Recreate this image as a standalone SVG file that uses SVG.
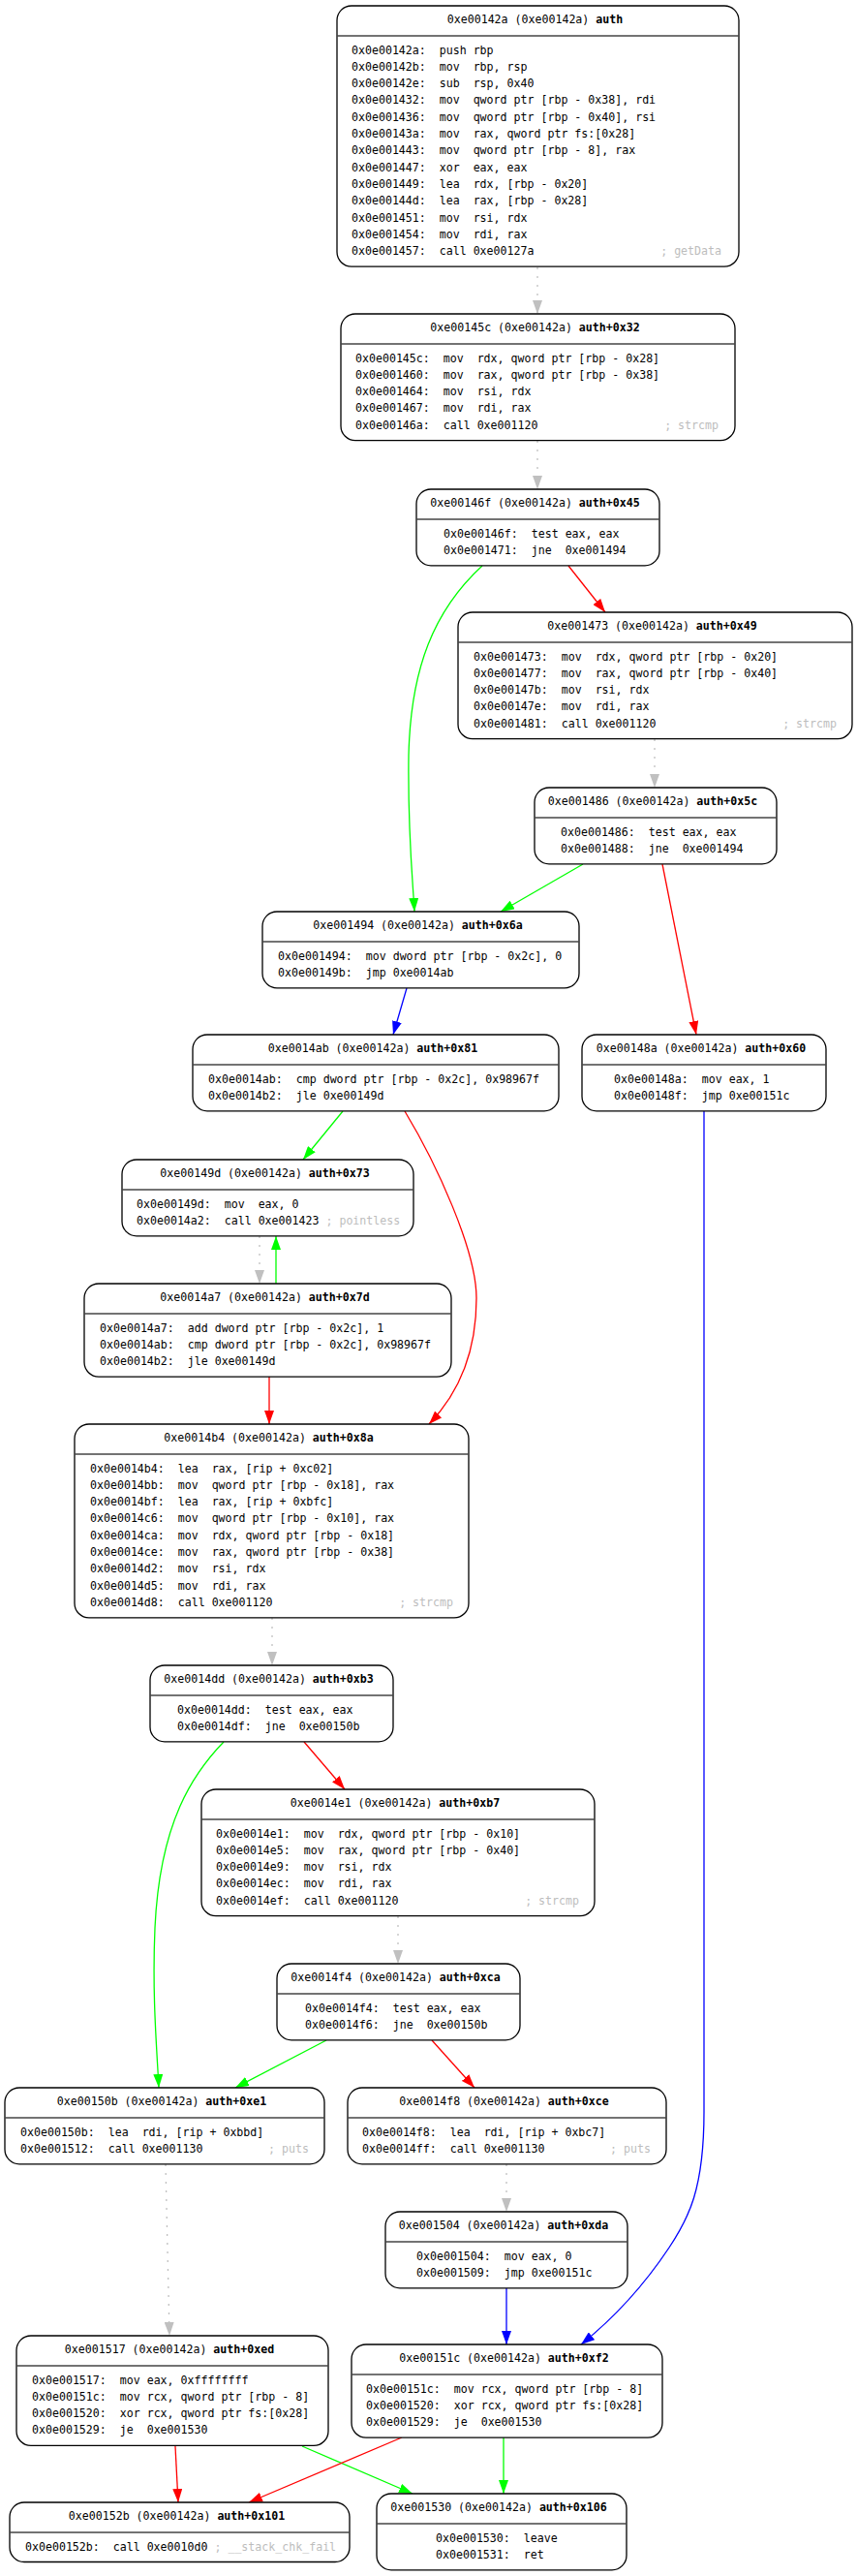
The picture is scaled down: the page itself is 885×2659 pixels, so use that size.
<svg xmlns="http://www.w3.org/2000/svg" width="885" height="2659" viewBox="0 0 885 2659" xml:space="preserve">
<style>
.bx{fill:#fff;stroke:#000;stroke-width:1.3}
.dv{stroke:#444;stroke-width:1.6}
.t{font-family:"DejaVu Sans Mono",monospace;font-size:11.6px;fill:#000;white-space:pre}
.h{text-anchor:middle}
.b{font-weight:bold}
.c{fill:#bdbdbd}
.r{text-anchor:end;fill:#bdbdbd}
.e{fill:none;stroke-width:1.3}
.eg{stroke:#00ff00}
.er{stroke:#ff0000}
.eb{stroke:#0000ff}
.ey{stroke:#c0c0c0;stroke-dasharray:2,7}
</style>
<defs>
<marker id="mg" markerUnits="userSpaceOnUse" markerWidth="14" markerHeight="10" refX="14" refY="5" orient="auto"><path d="M0,0L14,5L0,10z" fill="#00ff00"/></marker>
<marker id="mr" markerUnits="userSpaceOnUse" markerWidth="14" markerHeight="10" refX="14" refY="5" orient="auto"><path d="M0,0L14,5L0,10z" fill="#ff0000"/></marker>
<marker id="mb" markerUnits="userSpaceOnUse" markerWidth="14" markerHeight="10" refX="14" refY="5" orient="auto"><path d="M0,0L14,5L0,10z" fill="#0000ff"/></marker>
<marker id="my" markerUnits="userSpaceOnUse" markerWidth="14" markerHeight="10" refX="14" refY="5" orient="auto"><path d="M0,0L14,5L0,10z" fill="#c0c0c0"/></marker>
</defs>
<rect width="885" height="2659" fill="#fff"/>
<g id="edges">
<path class="e ey" d="M555,276L555,324" marker-end="url(#my)"/>
<path class="e ey" d="M555,455L555,505" marker-end="url(#my)"/>
<path class="e er" d="M587,584L625,632" marker-end="url(#mr)"/>
<path class="e eg" d="M498,584C448,630 424,690 422,780C421,860 426,905 428,941" marker-end="url(#mg)"/>
<path class="e ey" d="M676,763L676,813" marker-end="url(#my)"/>
<path class="e eg" d="M602,892L517,941" marker-end="url(#mg)"/>
<path class="e er" d="M684,892L719,1068" marker-end="url(#mr)"/>
<path class="e eb" d="M420,1020L406,1068" marker-end="url(#mb)"/>
<path class="e eg" d="M354,1147L313,1197" marker-end="url(#mg)"/>
<path class="e er" d="M418,1147C450,1200 492,1290 492,1340C492,1400 472,1440 443,1470" marker-end="url(#mr)"/>
<path class="e eb" d="M727,1147L727,2180C727,2260 711,2290 691,2320C671,2350 640,2388 600,2420" marker-end="url(#mb)"/>
<path class="e ey" d="M268,1276L268,1325" marker-end="url(#my)"/>
<path class="e eg" d="M285,1325L285,1276" marker-end="url(#mg)"/>
<path class="e er" d="M278,1421L278,1470" marker-end="url(#mr)"/>
<path class="e ey" d="M281,1670L281,1719" marker-end="url(#my)"/>
<path class="e eg" d="M231,1798C200,1830 165,1880 160,1990C157,2060 162,2115 164,2155" marker-end="url(#mg)"/>
<path class="e er" d="M314,1798L356,1847" marker-end="url(#mr)"/>
<path class="e ey" d="M411,1978L411,2027" marker-end="url(#my)"/>
<path class="e eg" d="M337,2106L243,2155" marker-end="url(#mg)"/>
<path class="e er" d="M446,2106L490,2155" marker-end="url(#mr)"/>
<path class="e ey" d="M171,2234L175,2411" marker-end="url(#my)"/>
<path class="e ey" d="M523,2234L523,2283" marker-end="url(#my)"/>
<path class="e eb" d="M523,2362L523,2420" marker-end="url(#mb)"/>
<path class="e er" d="M181,2525L184,2583" marker-end="url(#mr)"/>
<path class="e eg" d="M312,2525L426,2574" marker-end="url(#mg)"/>
<path class="e er" d="M415,2516L257,2583" marker-end="url(#mr)"/>
<path class="e eg" d="M520,2516L520,2574" marker-end="url(#mg)"/>
</g>
<g id="n142a">
<rect class="bx" x="348" y="6" width="415" height="269.1" rx="15"/>
<line class="dv" x1="348" y1="37" x2="763" y2="37"/>
<text class="t h" x="552.5" y="24">0xe00142a (0xe00142a) <tspan class="b">auth</tspan></text>
<text class="t" x="363" y="55.5">0x0e00142a:  push rbp</text>
<text class="t" x="363" y="72.8">0x0e00142b:  mov  rbp, rsp</text>
<text class="t" x="363" y="90.1">0x0e00142e:  sub  rsp, 0x40</text>
<text class="t" x="363" y="107.4">0x0e001432:  mov  qword ptr [rbp - 0x38], rdi</text>
<text class="t" x="363" y="124.7">0x0e001436:  mov  qword ptr [rbp - 0x40], rsi</text>
<text class="t" x="363" y="142">0x0e00143a:  mov  rax, qword ptr fs:[0x28]</text>
<text class="t" x="363" y="159.3">0x0e001443:  mov  qword ptr [rbp - 8], rax</text>
<text class="t" x="363" y="176.6">0x0e001447:  xor  eax, eax</text>
<text class="t" x="363" y="193.9">0x0e001449:  lea  rdx, [rbp - 0x20]</text>
<text class="t" x="363" y="211.2">0x0e00144d:  lea  rax, [rbp - 0x28]</text>
<text class="t" x="363" y="228.5">0x0e001451:  mov  rsi, rdx</text>
<text class="t" x="363" y="245.8">0x0e001454:  mov  rdi, rax</text>
<text class="t" x="363" y="263.1">0x0e001457:  call 0xe00127a</text>
<text class="t r" x="745" y="263.1">; getData</text>
</g>
<g id="n145c">
<rect class="bx" x="352" y="324" width="407" height="130.7" rx="15"/>
<line class="dv" x1="352" y1="355" x2="759" y2="355"/>
<text class="t h" x="552.5" y="342">0xe00145c (0xe00142a) <tspan class="b">auth+0x32</tspan></text>
<text class="t" x="367" y="373.5">0x0e00145c:  mov  rdx, qword ptr [rbp - 0x28]</text>
<text class="t" x="367" y="390.8">0x0e001460:  mov  rax, qword ptr [rbp - 0x38]</text>
<text class="t" x="367" y="408.1">0x0e001464:  mov  rsi, rdx</text>
<text class="t" x="367" y="425.4">0x0e001467:  mov  rdi, rax</text>
<text class="t" x="367" y="442.7">0x0e00146a:  call 0xe001120</text>
<text class="t r" x="742" y="442.7">; strcmp</text>
</g>
<g id="n146f">
<rect class="bx" x="430" y="505" width="251" height="78.8" rx="15"/>
<line class="dv" x1="430" y1="536" x2="681" y2="536"/>
<text class="t h" x="552.5" y="523">0xe00146f (0xe00142a) <tspan class="b">auth+0x45</tspan></text>
<text class="t" x="458" y="554.5">0x0e00146f:  test eax, eax</text>
<text class="t" x="458" y="571.8">0x0e001471:  jne  0xe001494</text>
</g>
<g id="n1473">
<rect class="bx" x="473" y="632" width="407" height="130.7" rx="15"/>
<line class="dv" x1="473" y1="663" x2="880" y2="663"/>
<text class="t h" x="673.5" y="650">0xe001473 (0xe00142a) <tspan class="b">auth+0x49</tspan></text>
<text class="t" x="489" y="681.5">0x0e001473:  mov  rdx, qword ptr [rbp - 0x20]</text>
<text class="t" x="489" y="698.8">0x0e001477:  mov  rax, qword ptr [rbp - 0x40]</text>
<text class="t" x="489" y="716.1">0x0e00147b:  mov  rsi, rdx</text>
<text class="t" x="489" y="733.4">0x0e00147e:  mov  rdi, rax</text>
<text class="t" x="489" y="750.7">0x0e001481:  call 0xe001120</text>
<text class="t r" x="864" y="750.7">; strcmp</text>
</g>
<g id="n1486">
<rect class="bx" x="552" y="813" width="250" height="78.8" rx="15"/>
<line class="dv" x1="552" y1="844" x2="802" y2="844"/>
<text class="t h" x="674" y="831">0xe001486 (0xe00142a) <tspan class="b">auth+0x5c</tspan></text>
<text class="t" x="579" y="862.5">0x0e001486:  test eax, eax</text>
<text class="t" x="579" y="879.8">0x0e001488:  jne  0xe001494</text>
</g>
<g id="n1494">
<rect class="bx" x="271" y="941" width="327" height="78.8" rx="15"/>
<line class="dv" x1="271" y1="972" x2="598" y2="972"/>
<text class="t h" x="431.5" y="959">0xe001494 (0xe00142a) <tspan class="b">auth+0x6a</tspan></text>
<text class="t" x="287" y="990.5">0x0e001494:  mov dword ptr [rbp - 0x2c], 0</text>
<text class="t" x="287" y="1007.8">0x0e00149b:  jmp 0xe0014ab</text>
</g>
<g id="n14ab">
<rect class="bx" x="199" y="1068" width="378" height="78.8" rx="15"/>
<line class="dv" x1="199" y1="1099" x2="577" y2="1099"/>
<text class="t h" x="385" y="1086">0xe0014ab (0xe00142a) <tspan class="b">auth+0x81</tspan></text>
<text class="t" x="215" y="1117.5">0x0e0014ab:  cmp dword ptr [rbp - 0x2c], 0x98967f</text>
<text class="t" x="215" y="1134.8">0x0e0014b2:  jle 0xe00149d</text>
</g>
<g id="n148a">
<rect class="bx" x="601" y="1068" width="252" height="78.8" rx="15"/>
<line class="dv" x1="601" y1="1099" x2="853" y2="1099"/>
<text class="t h" x="724" y="1086">0xe00148a (0xe00142a) <tspan class="b">auth+0x60</tspan></text>
<text class="t" x="634" y="1117.5">0x0e00148a:  mov eax, 1</text>
<text class="t" x="634" y="1134.8">0x0e00148f:  jmp 0xe00151c</text>
</g>
<g id="n149d">
<rect class="bx" x="126" y="1197" width="301" height="78.8" rx="15"/>
<line class="dv" x1="126" y1="1228" x2="427" y2="1228"/>
<text class="t h" x="273.5" y="1215">0xe00149d (0xe00142a) <tspan class="b">auth+0x73</tspan></text>
<text class="t" x="141" y="1246.5">0x0e00149d:  mov  eax, 0</text>
<text class="t" x="141" y="1263.8">0x0e0014a2:  call 0xe001423 <tspan class="c">; pointless</tspan></text>
</g>
<g id="n14a7">
<rect class="bx" x="87" y="1325" width="379" height="96.1" rx="15"/>
<line class="dv" x1="87" y1="1356" x2="466" y2="1356"/>
<text class="t h" x="273.5" y="1343">0xe0014a7 (0xe00142a) <tspan class="b">auth+0x7d</tspan></text>
<text class="t" x="103" y="1374.5">0x0e0014a7:  add dword ptr [rbp - 0x2c], 1</text>
<text class="t" x="103" y="1391.8">0x0e0014ab:  cmp dword ptr [rbp - 0x2c], 0x98967f</text>
<text class="t" x="103" y="1409.1">0x0e0014b2:  jle 0xe00149d</text>
</g>
<g id="n14b4">
<rect class="bx" x="77" y="1470" width="407" height="199.9" rx="15"/>
<line class="dv" x1="77" y1="1501" x2="484" y2="1501"/>
<text class="t h" x="277.5" y="1488">0xe0014b4 (0xe00142a) <tspan class="b">auth+0x8a</tspan></text>
<text class="t" x="93" y="1519.5">0x0e0014b4:  lea  rax, [rip + 0xc02]</text>
<text class="t" x="93" y="1536.8">0x0e0014bb:  mov  qword ptr [rbp - 0x18], rax</text>
<text class="t" x="93" y="1554.1">0x0e0014bf:  lea  rax, [rip + 0xbfc]</text>
<text class="t" x="93" y="1571.4">0x0e0014c6:  mov  qword ptr [rbp - 0x10], rax</text>
<text class="t" x="93" y="1588.7">0x0e0014ca:  mov  rdx, qword ptr [rbp - 0x18]</text>
<text class="t" x="93" y="1606">0x0e0014ce:  mov  rax, qword ptr [rbp - 0x38]</text>
<text class="t" x="93" y="1623.3">0x0e0014d2:  mov  rsi, rdx</text>
<text class="t" x="93" y="1640.6">0x0e0014d5:  mov  rdi, rax</text>
<text class="t" x="93" y="1657.9">0x0e0014d8:  call 0xe001120</text>
<text class="t r" x="468" y="1657.9">; strcmp</text>
</g>
<g id="n14dd">
<rect class="bx" x="155" y="1719" width="251" height="78.8" rx="15"/>
<line class="dv" x1="155" y1="1750" x2="406" y2="1750"/>
<text class="t h" x="277.5" y="1737">0xe0014dd (0xe00142a) <tspan class="b">auth+0xb3</tspan></text>
<text class="t" x="183" y="1768.5">0x0e0014dd:  test eax, eax</text>
<text class="t" x="183" y="1785.8">0x0e0014df:  jne  0xe00150b</text>
</g>
<g id="n14e1">
<rect class="bx" x="208" y="1847" width="406" height="130.7" rx="15"/>
<line class="dv" x1="208" y1="1878" x2="614" y2="1878"/>
<text class="t h" x="408" y="1865">0xe0014e1 (0xe00142a) <tspan class="b">auth+0xb7</tspan></text>
<text class="t" x="223" y="1896.5">0x0e0014e1:  mov  rdx, qword ptr [rbp - 0x10]</text>
<text class="t" x="223" y="1913.8">0x0e0014e5:  mov  rax, qword ptr [rbp - 0x40]</text>
<text class="t" x="223" y="1931.1">0x0e0014e9:  mov  rsi, rdx</text>
<text class="t" x="223" y="1948.4">0x0e0014ec:  mov  rdi, rax</text>
<text class="t" x="223" y="1965.7">0x0e0014ef:  call 0xe001120</text>
<text class="t r" x="598" y="1965.7">; strcmp</text>
</g>
<g id="n14f4">
<rect class="bx" x="286" y="2027" width="251" height="78.8" rx="15"/>
<line class="dv" x1="286" y1="2058" x2="537" y2="2058"/>
<text class="t h" x="408.5" y="2045">0xe0014f4 (0xe00142a) <tspan class="b">auth+0xca</tspan></text>
<text class="t" x="315" y="2076.5">0x0e0014f4:  test eax, eax</text>
<text class="t" x="315" y="2093.8">0x0e0014f6:  jne  0xe00150b</text>
</g>
<g id="n150b">
<rect class="bx" x="5" y="2155" width="330" height="78.8" rx="15"/>
<line class="dv" x1="5" y1="2186" x2="335" y2="2186"/>
<text class="t h" x="167" y="2173">0xe00150b (0xe00142a) <tspan class="b">auth+0xe1</tspan></text>
<text class="t" x="21" y="2204.5">0x0e00150b:  lea  rdi, [rip + 0xbbd]</text>
<text class="t" x="21" y="2221.8">0x0e001512:  call 0xe001130</text>
<text class="t r" x="319" y="2221.8">; puts</text>
</g>
<g id="n14f8">
<rect class="bx" x="359" y="2155" width="329" height="78.8" rx="15"/>
<line class="dv" x1="359" y1="2186" x2="688" y2="2186"/>
<text class="t h" x="520.5" y="2173">0xe0014f8 (0xe00142a) <tspan class="b">auth+0xce</tspan></text>
<text class="t" x="374" y="2204.5">0x0e0014f8:  lea  rdi, [rip + 0xbc7]</text>
<text class="t" x="374" y="2221.8">0x0e0014ff:  call 0xe001130</text>
<text class="t r" x="672" y="2221.8">; puts</text>
</g>
<g id="n1504">
<rect class="bx" x="398" y="2283" width="250" height="78.8" rx="15"/>
<line class="dv" x1="398" y1="2314" x2="648" y2="2314"/>
<text class="t h" x="520" y="2301">0xe001504 (0xe00142a) <tspan class="b">auth+0xda</tspan></text>
<text class="t" x="430" y="2332.5">0x0e001504:  mov eax, 0</text>
<text class="t" x="430" y="2349.8">0x0e001509:  jmp 0xe00151c</text>
</g>
<g id="n151c">
<rect class="bx" x="363" y="2420" width="321" height="96.1" rx="15"/>
<line class="dv" x1="363" y1="2451" x2="684" y2="2451"/>
<text class="t h" x="520.5" y="2438">0xe00151c (0xe00142a) <tspan class="b">auth+0xf2</tspan></text>
<text class="t" x="378" y="2469.5">0x0e00151c:  mov rcx, qword ptr [rbp - 8]</text>
<text class="t" x="378" y="2486.8">0x0e001520:  xor rcx, qword ptr fs:[0x28]</text>
<text class="t" x="378" y="2504.1">0x0e001529:  je  0xe001530</text>
</g>
<g id="n1517">
<rect class="bx" x="17" y="2411" width="322" height="113.4" rx="15"/>
<line class="dv" x1="17" y1="2442" x2="339" y2="2442"/>
<text class="t h" x="175" y="2429">0xe001517 (0xe00142a) <tspan class="b">auth+0xed</tspan></text>
<text class="t" x="33" y="2460.5">0x0e001517:  mov eax, 0xffffffff</text>
<text class="t" x="33" y="2477.8">0x0e00151c:  mov rcx, qword ptr [rbp - 8]</text>
<text class="t" x="33" y="2495.1">0x0e001520:  xor rcx, qword ptr fs:[0x28]</text>
<text class="t" x="33" y="2512.4">0x0e001529:  je  0xe001530</text>
</g>
<g id="n152b">
<rect class="bx" x="10" y="2583" width="351" height="61.5" rx="15"/>
<line class="dv" x1="10" y1="2614" x2="361" y2="2614"/>
<text class="t h" x="182.5" y="2601">0xe00152b (0xe00142a) <tspan class="b">auth+0x101</tspan></text>
<text class="t" x="26" y="2632.5">0x0e00152b:  call 0xe0010d0 <tspan class="c">; __stack_chk_fail</tspan></text>
</g>
<g id="n1530">
<rect class="bx" x="389" y="2574" width="258" height="78.8" rx="15"/>
<line class="dv" x1="389" y1="2605" x2="647" y2="2605"/>
<text class="t h" x="515" y="2592">0xe001530 (0xe00142a) <tspan class="b">auth+0x106</tspan></text>
<text class="t" x="450" y="2623.5">0x0e001530:  leave</text>
<text class="t" x="450" y="2640.8">0x0e001531:  ret</text>
</g>
</svg>
